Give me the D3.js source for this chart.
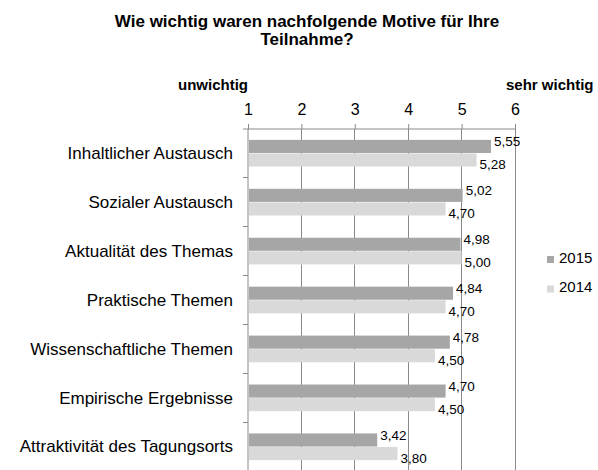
<!DOCTYPE html>
<html>
<head>
<meta charset="utf-8">
<script src="https://cdn.jsdelivr.net/npm/d3@7"></script>
<style>
html,body{margin:0;padding:0;background:#fff;}
text{font-family:"Liberation Sans",Arial,sans-serif;fill:#000;}
</style>
</head>
<body>
<svg id="chart" width="598" height="470"></svg>
<script>
const categories = ["Inhaltlicher Austausch","Sozialer Austausch","Aktualität des Themas","Praktische Themen","Wissenschaftliche Themen","Empirische Ergebnisse","Attraktivität des Tagungsorts"];
const seriesNames = ["2015","2014"];
const values2015 = [5.55,5.02,4.98,4.84,4.78,4.70,3.42];
const values2014 = [5.28,4.70,5.00,4.70,4.50,4.50,3.80];
const tickValues = [1,2,3,4,5,6];
const titleLines = ["Wie wichtig waren nachfolgende Motive für Ihre","Teilnahme?"];
const colors = ["#a6a6a6","#d9d9d9"];

(function(){
const svg = d3.select("#chart");
const pLeft = 248, pRight = 515, pTop = 129, pBottom = 471.5;

const x = d3.scaleLinear().domain([1,6]).range([pLeft,pRight]);
const y0 = d3.scaleBand().domain(categories).range([pTop,pBottom]);
const y1 = d3.scaleBand().domain(seriesNames).range([0,y0.bandwidth()]).paddingInner(0).paddingOuter(0.8);
const color = d3.scaleOrdinal().domain(seriesNames).range(colors);

// title
svg.append("text").attr("x",307).attr("y",27).attr("text-anchor","middle")
  .style("font-weight","bold").style("font-size","17px")
  .selectAll("tspan").data(titleLines).join("tspan")
  .attr("x",307).attr("dy",(d,i)=>i===0?0:17.5).text(d=>d);

// axis labels
svg.append("text").attr("x",pLeft).attr("y",90).attr("text-anchor","end")
  .style("font-weight","bold").style("font-size","15px").text("unwichtig");
svg.append("text").attr("x",506).attr("y",90).attr("text-anchor","start")
  .style("font-weight","bold").style("font-size","15px").text("sehr wichtig");

// gridlines
svg.append("g").selectAll("line").data(tickValues.slice(1)).join("line")
  .attr("x1",d=>x(d)).attr("x2",d=>x(d)).attr("y1",pTop).attr("y2",470)
  .attr("stroke","#8a8a8a").attr("stroke-width",1).attr("shape-rendering","crispEdges");

// top axis
const xAxis = d3.axisTop(x).tickValues(tickValues).tickSize(5).tickPadding(9).tickFormat(d3.format("d"));
const gx = svg.append("g").attr("transform",`translate(0,${pTop})`).call(xAxis);
gx.select(".domain").attr("stroke","#8a8a8a").attr("d",`M${pLeft-5},0H${pRight}`);
gx.selectAll(".tick line").attr("stroke","#8a8a8a");
gx.selectAll(".tick text").style("font-size","16px").style("font-family","'Liberation Sans',Arial,sans-serif").attr("fill","#000");

// left axis
const yAxis = d3.axisLeft(y0).tickSize(0).tickPadding(15);
const gy = svg.append("g").attr("transform",`translate(${pLeft},0)`).call(yAxis);
gy.select(".domain").attr("stroke","#8a8a8a").attr("d",`M0,${pTop}V470`);
gy.selectAll(".tick text").style("font-size","17px").style("font-family","'Liberation Sans',Arial,sans-serif").attr("fill","#000");
// boundary ticks
svg.append("g").selectAll("line").data(categories.slice(1)).join("line")
  .attr("x1",pLeft-5).attr("x2",pLeft).attr("y1",d=>y0(d)).attr("y2",d=>y0(d))
  .attr("stroke","#8a8a8a").attr("shape-rendering","crispEdges");

// bars
const rows = categories.map((c,i)=>({cat:c, vals:[{s:"2015",v:values2015[i]},{s:"2014",v:values2014[i]}]}));
const g = svg.append("g").selectAll("g").data(rows).join("g")
  .attr("transform",d=>`translate(0,${y0(d.cat)})`);
g.selectAll("rect").data(d=>d.vals).join("rect")
  .attr("x",x(1)+1).attr("y",d=>y1(d.s)).attr("height",y1.bandwidth()-0.5)
  .attr("width",d=>x(d.v)-x(1)-1).attr("fill",d=>color(d.s));
g.selectAll("text.val").data(d=>d.vals).join("text").attr("class","val")
  .attr("x",d=>x(d.v)+3).attr("y",d=>y1(d.s)+y1.bandwidth()/2 + (d.s==="2015"?-5:4))
  .attr("dy","0.35em").style("font-size","13.5px")
  .text(d=>d3.format(".2f")(d.v).replace(".",","));

// legend
const lg = svg.append("g").selectAll("g").data(seriesNames).join("g")
  .attr("transform",(d,i)=>`translate(547,${256+i*29.5})`);
lg.append("rect").attr("width",7).attr("height",7).attr("fill",d=>color(d));
lg.append("text").attr("x",12).attr("y",6.5).style("font-size","15px").text(d=>d);
})();
</script>
</body>
</html>
